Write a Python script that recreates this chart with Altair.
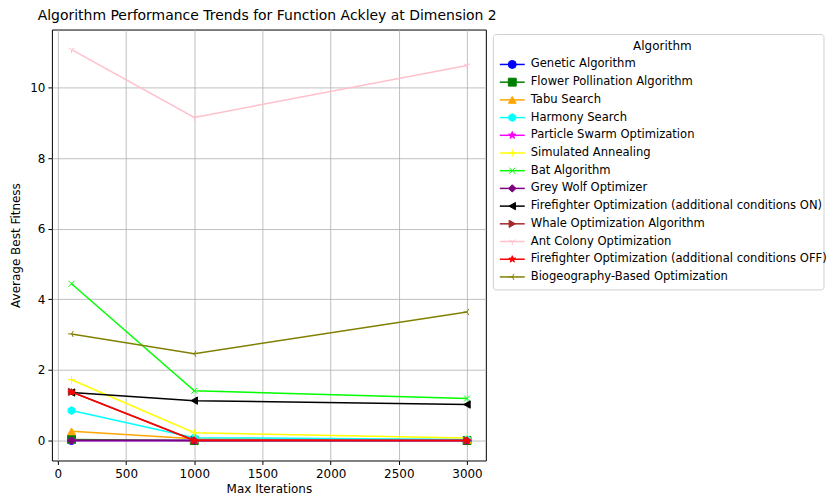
import altair as alt
import pandas as pd

# ---------------- data ----------------
iterations = [100, 1000, 3000]
algorithms = [
    "Genetic Algorithm",
    "Flower Pollination Algorithm",
    "Tabu Search",
    "Harmony Search",
    "Particle Swarm Optimization",
    "Simulated Annealing",
    "Bat Algorithm",
    "Grey Wolf Optimizer",
    "Firefighter Optimization (additional conditions ON)",
    "Whale Optimization Algorithm",
    "Ant Colony Optimization",
    "Firefighter Optimization (additional conditions OFF)",
    "Biogeography-Based Optimization",
]
ga = [0.0, 0.0, 0.0]
fpa = [0.03, 0.0, 0.0]
tabu = [0.26, 0.05, 0.02]
harmony = [0.85, 0.08, 0.03]
pso = [0.0, 0.0, 0.0]
sa = [1.72, 0.22, 0.07]
bat = [4.44, 1.41, 1.19]
gwo = [0.0, 0.0, 0.0]
ff_on = [1.36, 1.13, 1.02]
whale = [1.38, 0.01, 0.0]
aco = [11.07, 9.15, 10.62]
ff_off = [1.37, 0.0, 0.0]
bbo = [3.02, 2.46, 3.64]
series = [ga, fpa, tabu, harmony, pso, sa, bat, gwo, ff_on, whale, aco, ff_off, bbo]

x_ticks = [0, 500, 1000, 1500, 2000, 2500, 3000]
y_ticks = [0, 2, 4, 6, 8, 10]

# ---------------- styles ----------------
colors = ["#0000ff", "#008000", "#ffa500", "#00ffff", "#ff00ff", "#ffff00",
          "#00ff00", "#800080", "#000000", "#a52a2a", "#ffc0cb", "#ff0000", "#808000"]
STAR = "M0,-1L0.235,-0.324L0.951,-0.309L0.38,0.124L0.588,0.809L0,0.4L-0.588,0.809L-0.38,0.124L-0.951,-0.309L-0.235,-0.324Z"
HEX = "M0,-1L0.87,-0.5L0.87,0.5L0,1L-0.87,0.5L-0.87,-0.5Z"
PLUS = "M-1,0L1,0M0,-1L0,1"
XMARK = "M-0.8,-0.8L0.8,0.8M-0.8,0.8L0.8,-0.8"
TRI_DOWN = "M0,0L0,1M0,0L-0.87,-0.5M0,0L0.87,-0.5"
TRI_LEFT = "M0,0L-1,0M0,0L0.5,-0.87M0,0L0.5,0.87"
shapes = ["circle", "square", "triangle-up", HEX, STAR, PLUS, XMARK, "diamond",
          "triangle-left", "triangle-right", TRI_DOWN, STAR, TRI_LEFT]
sizes = [64, 50, 64, 70, 80, 70, 70, 120, 64, 64, 64, 70, 64]

rows = []
for name, vals in zip(algorithms, series):
    for it, v in zip(iterations, vals):
        rows.append({"Algorithm": name, "Iterations": it, "Fitness": v})
df = pd.DataFrame(rows)

color_scale = alt.Scale(domain=algorithms, range=colors)
shape_scale = alt.Scale(domain=algorithms, range=shapes)
size_scale = alt.Scale(domain=algorithms, range=sizes)

base = alt.Chart(df).encode(
    x=alt.X("Iterations:Q",
            scale=alt.Scale(domain=[-44, 3138], nice=False, zero=False),
            axis=alt.Axis(values=x_ticks, title="Max Iterations", format="d",
                          titlePadding=4, labelPadding=4.5)),
    y=alt.Y("Fitness:Q",
            scale=alt.Scale(domain=[-0.565, 11.64], nice=False, zero=False),
            axis=alt.Axis(values=y_ticks, title="Average Best Fitness", format="d",
                          titlePadding=7.5, labelPadding=3)),
)

layers = []
for name in algorithms:
    sub = base.transform_filter(alt.datum.Algorithm == name)
    layers.append(sub.mark_line(strokeWidth=1.5).encode(
        color=alt.Color("Algorithm:N", scale=color_scale, legend=None)))
    layers.append(sub.mark_point(filled=True, opacity=1, strokeWidth=1).encode(
        fill=alt.Fill("Algorithm:N", scale=color_scale, legend=None),
        stroke=alt.Stroke("Algorithm:N", scale=color_scale, legend=None),
        shape=alt.Shape("Algorithm:N", scale=shape_scale, legend=None),
        size=alt.Size("Algorithm:N", scale=size_scale, legend=None),
    ))

main = alt.layer(*layers).properties(width=435, height=432)

# ---------------- legend panel ----------------
leg_df = pd.DataFrame({"Algorithm": algorithms})
one = pd.DataFrame({"k": [0]})
ly = alt.Y("Algorithm:N", sort=algorithms, axis=None,
           scale=alt.Scale(type="point", range=[35, 248], padding=0))

box = alt.Chart(one).mark_rect(fill="white", stroke="#d0d0d0", strokeWidth=1,
                               cornerRadius=3).encode(
    x=alt.value(0.5), x2=alt.value(332), y=alt.value(5), y2=alt.value(261))
ltitle = alt.Chart(one).mark_text(fontSize=12, align="center", baseline="middle",
                                  color="black").encode(
    x=alt.value(170), y=alt.value(17), text=alt.value("Algorithm"))
lrule = alt.Chart(leg_df).mark_rule(strokeWidth=1.5).encode(
    x=alt.value(7), x2=alt.value(32), y=ly,
    color=alt.Color("Algorithm:N", scale=color_scale, legend=None))
lpt = alt.Chart(leg_df).mark_point(filled=True, opacity=1, strokeWidth=1).encode(
    x=alt.value(19.5), y=ly,
    fill=alt.Fill("Algorithm:N", scale=color_scale, legend=None),
    stroke=alt.Stroke("Algorithm:N", scale=color_scale, legend=None),
    shape=alt.Shape("Algorithm:N", scale=shape_scale, legend=None),
    size=alt.Size("Algorithm:N", scale=size_scale, legend=None))
ltext = alt.Chart(leg_df).mark_text(align="left", baseline="middle", fontSize=11.6,
                                    color="black").encode(
    x=alt.value(38), y=ly, text="Algorithm:N")

legend = alt.layer(box, ltitle, lrule, lpt, ltext).properties(
    width=330, height=262,
    view=alt.ViewBackground(strokeOpacity=0, strokeWidth=0))

chart = alt.hconcat(main, legend, spacing=6).properties(
    padding=0,
    title=alt.TitleParams(
        "Algorithm Performance Trends for Function Ackley at Dimension 2",
        anchor="start", dx=29, fontSize=14, fontWeight="normal", offset=6,
        color="black"),
).configure(font="DejaVu Sans").configure_view(
    stroke="black", strokeWidth=1
).configure_axis(
    labelFontSize=12, titleFontSize=12, titleFontWeight="normal",
    labelColor="black", titleColor="black", tickColor="black",
    tickSize=4, domain=False,
    gridColor="#b0b0b0", gridWidth=0.8,
)

chart.save("out.html", embed_options={"renderer": "svg", "actions": False})
